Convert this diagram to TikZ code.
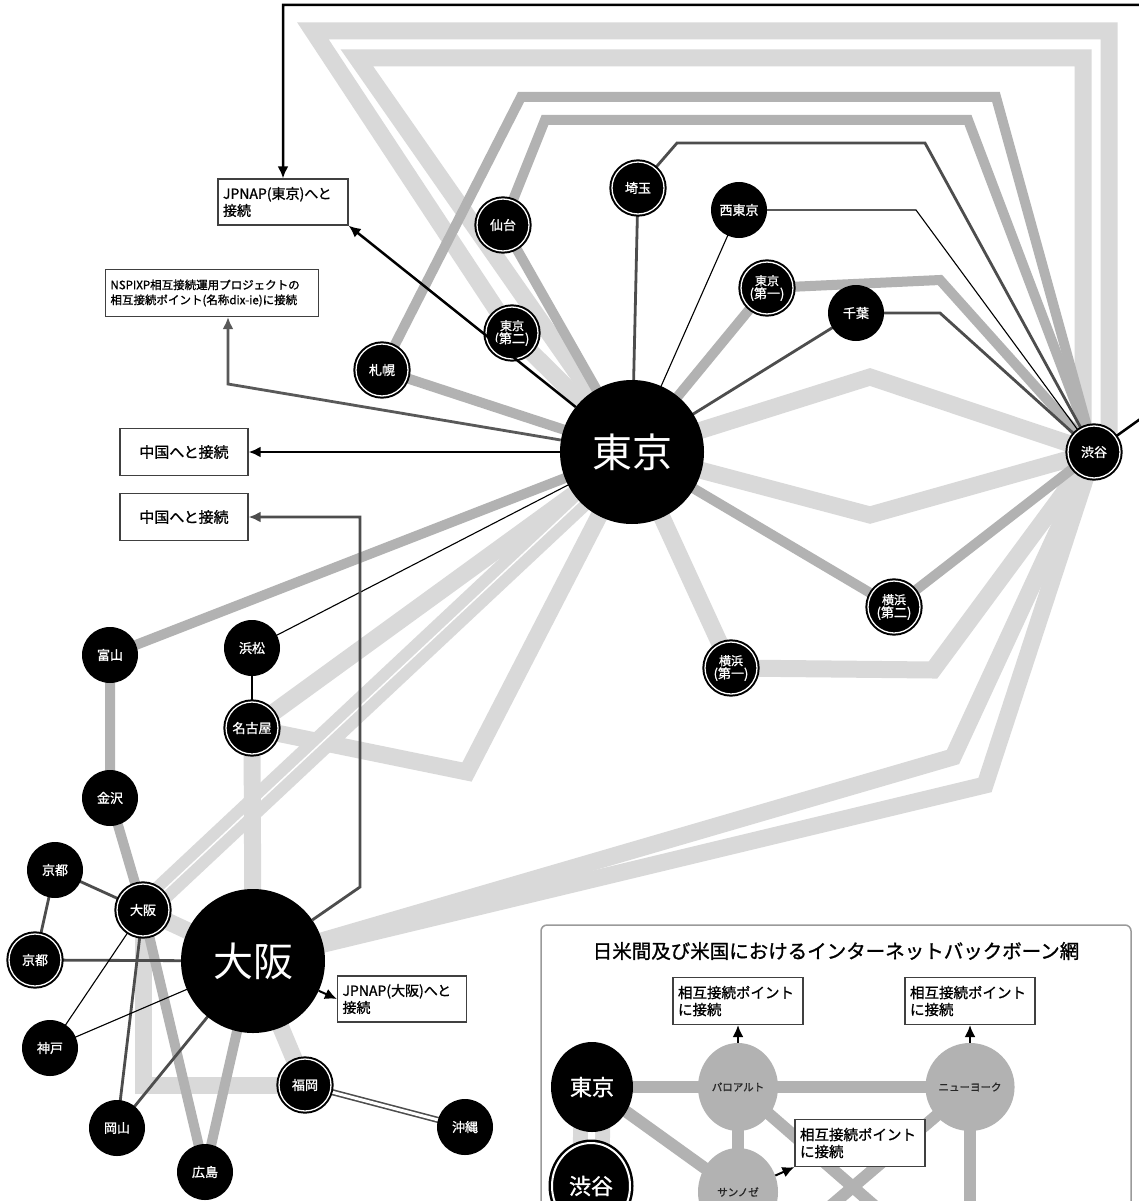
\documentclass[tikz,border=0pt]{standalone}
\usepackage{fontspec}
\setmainfont{Noto Sans CJK JP}[AutoFakeBold=1.2]
\usepackage{tikz}
\usetikzlibrary{arrows.meta}
\usetikzlibrary{shapes.geometric}
\usetikzlibrary{backgrounds}
\definecolor{bandlight}{HTML}{D9D9D9}
\definecolor{bandmid}{HTML}{B2B2B2}
\definecolor{wiredark}{HTML}{4D4D4D}
\definecolor{framegrey}{HTML}{9A9A9A}
\tikzset{
  city/.style={circle, fill=black, minimum size=56pt, inner sep=0pt, text=white, align=center, font=\bfseries\fontsize{13}{13}\selectfont},
  hub/.style={city, minimum size=52pt, draw=black, line width=2pt, double=white, double distance=1.3pt},
  bigcity/.style={circle, fill=black, minimum size=144pt, inner sep=0pt, text=white, font=\fontsize{40}{44}\selectfont},
  lightband/.style={draw=bandlight, line width=17pt},
  midband/.style={draw=bandmid, line width=10pt},
  darkwire/.style={draw=wiredark, line width=2.8pt},
  thinwire/.style={draw=black, line width=1.1pt},
  blackwire/.style={draw=black, line width=2.5pt},
  notebox/.style={draw=black!75, line width=1.2pt, fill=white, inner xsep=5pt, inner ysep=3pt, align=left, font=\bfseries\fontsize{14}{17}\selectfont},
  tip/.style={-{Latex[length=12pt,width=11pt]}},
  legendhub/.style={ellipse, fill=black, minimum width=82pt, minimum height=90pt, inner sep=0pt, text=white, font=\bfseries\fontsize{22}{24}\selectfont},
  legendring/.style={legendhub, draw=black, line width=2.5pt, double=white, double distance=2pt, minimum width=78pt, minimum height=86pt},
  legendus/.style={ellipse, fill=bandmid, minimum width=80pt, minimum height=88pt, inner sep=0pt, text=black!85, font=\bfseries\fontsize{10.5}{12}\selectfont},
  legendband/.style={draw=bandmid, line width=12pt},
}
\newcommand{\citynode}[4]{\node[city] (#1) at (#2,#3) {#4};}
\newcommand{\hubnode}[4]{\node[hub] (#1) at (#2,#3) {#4};}
\newcommand{\twoline}[2]{\fontsize{12}{12.5}\selectfont #1\\#2}
\newcommand{\notenode}[5]{\node[notebox, text width=#4pt, minimum height=46pt] (#1) at (#2,#3) {#5};}

\begin{document}
\begin{tikzpicture}[x=1pt, y=-1pt]
\useasboundingbox (0,0) rectangle (1139,1201);
% main cities
\node[bigcity] (tokyo) at (632,452) {東京};
\node[bigcity] (osaka) at (253,961) {大阪};
% kanto and north
\hubnode{saitama}{638}{188}{埼玉}
\citynode{nishitokyo}{739}{210}{西東京}
\hubnode{sendai}{503}{225}{仙台}
\hubnode{tokyoA}{767}{288}{\twoline{東京}{(第一)}}
\citynode{chiba}{856}{313}{千葉}
\hubnode{tokyoB}{512}{333}{\twoline{東京}{(第二)}}
\hubnode{sapporo}{382}{370}{札幌}
\hubnode{shibuya}{1094}{452}{渋谷}
\hubnode{yokohamaB}{894}{607}{\twoline{横浜}{(第二)}}
\hubnode{yokohamaA}{731}{668}{\twoline{横浜}{(第一)}}
% chubu, kansai and west
\citynode{toyama}{110}{655}{富山}
\citynode{hamamatsu}{252}{648}{浜松}
\hubnode{nagoya}{252}{728}{名古屋}
\citynode{kanazawa}{110}{798}{金沢}
\citynode{kyotoA}{55}{870}{京都}
\hubnode{osakaS}{143}{910}{大阪}
\hubnode{kyotoB}{35}{960}{京都}
\citynode{kobe}{50}{1048}{神戸}
\citynode{okayama}{117}{1128}{岡山}
\citynode{hiroshima}{205}{1172}{広島}
\hubnode{fukuoka}{305}{1085}{福岡}
\citynode{okinawa}{465}{1127}{沖縄}
% legend nodes
\node[legendhub] (ltokyo) at (592,1087) {東京};
\node[legendring] (lshibuya) at (591,1186) {渋谷};
\node[legendus] (lpalo) at (738,1087) {パロアルト};
\node[legendus] (lny) at (970,1087) {ニューヨーク};
\node[legendus] (lsj) at (738,1192) {サンノゼ};
\coordinate (lpaloEnd) at (885,1215);
\coordinate (lnyEnd) at (820,1215);
\coordinate (lnyDown) at (970,1215);

\begin{scope}[on background layer]
\fill[white] (0,0) rectangle (1139,1201);
% light bands
\draw[lightband] (tokyoB.center) -- (313,31) -- (1109,31) -- (1109,440) -- (shibuya.center);
\draw[lightband] (tokyo.center) -- (357,58) -- (1083,58) -- (1083,440) -- (shibuya.center);
\draw[lightband] (tokyoB.center) -- (tokyo.center);
\draw[lightband] (tokyo.center) -- (870,377) -- (shibuya.center);
\draw[lightband] (tokyo.center) -- (870,515) -- (shibuya.center);
\draw[lightband] (tokyo.center) -- (yokohamaA.center) -- (933,670) -- (shibuya.center);
\draw[lightband] (shibuya.center) -- (953,757) -- (osaka.center);
\draw[lightband] (shibuya.center) -- (985,785) -- (osaka.center);
\draw[lightband] (tokyo.center) -- (nagoya.center);
\draw[lightband] (tokyo.center) -- (467,772) -- (nagoya.center);
\draw[draw=bandlight, line width=12pt, double=white, double distance=1.5pt] (tokyo.center) -- (osakaS.center);
\draw[lightband] (nagoya.center) -- (osaka.center);
\draw[lightband] (osakaS.center) -- (osaka.center);
\draw[lightband] (osakaS.center) -- (143,1085) -- (fukuoka.center);
\draw[lightband] (osaka.center) -- (fukuoka.center);
% medium bands
\draw[midband] (sapporo.center) -- (521,97) -- (996,97) -- (shibuya.center);
\draw[midband] (sendai.center) -- (545,120) -- (968,120) -- (shibuya.center);
\draw[midband] (sapporo.center) -- (tokyo.center);
\draw[midband] (sendai.center) -- (tokyo.center);
\draw[midband] (tokyo.center) -- (tokyoA.center) -- (940,280) -- (shibuya.center);
\draw[midband] (tokyo.center) -- (yokohamaB.center) -- (shibuya.center);
\draw[midband] (tokyo.center) -- (toyama.center) -- (kanazawa.center) -- (osakaS.center) -- (hiroshima.center) -- (osaka.center);
% dark and thin wires
\draw[darkwire] (tokyo.center) -- (saitama.center) -- (677,143) -- (925,143) -- (shibuya.center);
\draw[thinwire] (tokyo.center) -- (nishitokyo.center) -- (916,210) -- (shibuya.center);
\draw[darkwire] (tokyo.center) -- (chiba.center) -- (940,313) -- (shibuya.center);
\draw[thinwire] (tokyo.center) -- (hamamatsu.center);
\draw[thinwire, line width=1.5pt] (hamamatsu.center) -- (nagoya.center);
\draw[darkwire] (osakaS.center) -- (kyotoA.center) -- (kyotoB.center) -- (osaka.center);
\draw[darkwire] (osakaS.center) -- (okayama.center) -- (osaka.center);
\draw[thinwire] (osakaS.center) -- (kobe.center) -- (osaka.center);
\draw[draw=wiredark, line width=1.6pt, double=white, double distance=3pt] (fukuoka.center) -- (okinawa.center);
% legend frame and lines
\draw[draw=framegrey, line width=1.5pt, fill=white, rounded corners=6pt] (541,1240) rectangle (1131,925);
\draw[draw=bandlight, line width=15pt, double=white, double distance=7pt] (ltokyo.center) -- (lshibuya.center);
\draw[legendband] (ltokyo.center) -- (lny.center);
\draw[legendband] (ltokyo.center) -- (lsj.center);
\draw[legendband] (lpalo.center) -- (lsj.center);
\draw[legendband] (lpalo.center) -- (lpaloEnd);
\draw[legendband] (lny.center) -- (lnyEnd);
\draw[legendband] (lny.center) -- (lnyDown);
\end{scope}

% boxes
\notenode{jpnapT}{283}{202}{120}{JPNAP(東京)へと\\接続}
\node[notebox, text width=203pt, minimum height=47pt, font=\bfseries\fontsize{11.5}{15}\selectfont] (nspixp) at (212,293) {NSPIXP相互接続運用プロジェクトの\\相互接続ポイント(名称dix-ie)に接続};
\node[notebox, minimum width=128pt, minimum height=47pt, align=center, font=\bfseries\fontsize{15}{17}\selectfont] (chinaA) at (184,452) {中国へと接続};
\node[notebox, minimum width=128pt, minimum height=47pt, align=center, font=\bfseries\fontsize{15}{17}\selectfont] (chinaB) at (184,517) {中国へと接続};
\notenode{jpnapO}{402}{999}{119}{JPNAP(大阪)へと\\接続}
% arrows
\draw[blackwire, tip] (shibuya) -- (1150,412) -- (1150,5) -| (jpnapT.north);
\draw[blackwire, tip] (tokyo) -- (jpnapT.south east);
\draw[darkwire, draw=black!65, tip] (tokyo) -- (228,384) -- ([xshift=16pt]nspixp.south);
\draw[blackwire, tip] (tokyo) -- (chinaA.east);
\draw[darkwire, tip] (osaka) -- (360,887) -- (360,517) -- (chinaB.east);
\draw[blackwire, line width=2pt, tip] (osaka) -- (jpnapO.west);

% legend texts and boxes
\node[font=\bfseries\fontsize{19.5}{22}\selectfont] (ltitle) at (836,951) {日米間及び米国におけるインターネットバックボーン網};
\node[notebox, text width=120pt, minimum height=47pt, font=\bfseries\fontsize{14.5}{17}\selectfont] (lboxA) at (738,1001) {相互接続ポイント\\に接続};
\node[notebox, text width=120pt, minimum height=47pt, font=\bfseries\fontsize{14.5}{17}\selectfont] (lboxB) at (970,1001) {相互接続ポイント\\に接続};
\node[notebox, text width=120pt, minimum height=47pt, font=\bfseries\fontsize{14.5}{17}\selectfont] (lboxC) at (860,1143) {相互接続ポイント\\に接続};
\draw[blackwire, line width=2pt, tip] (lpalo) -- (lboxA);
\draw[blackwire, line width=2pt, tip] (lny) -- (lboxB);
\draw[blackwire, line width=2pt, tip] (lsj) -- (lboxC.south west);
\end{tikzpicture}
\end{document}
